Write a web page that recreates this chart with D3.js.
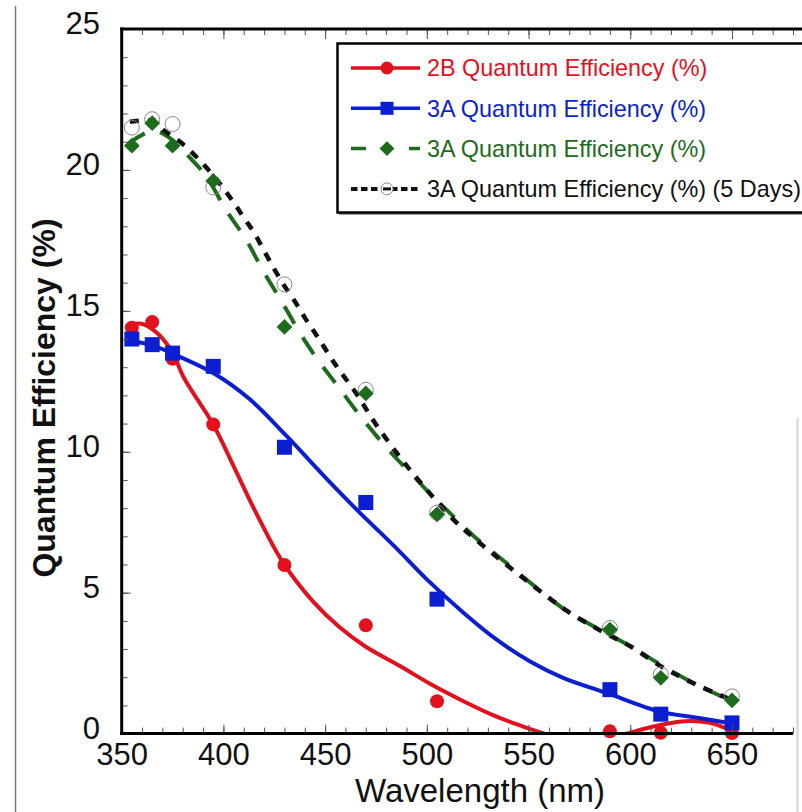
<html>
<head>
<script src="https://d3js.org/d3.v7.min.js"></script>
<style>
    body { margin: 0; background: #fff; }
    text { font-family: "Liberation Sans", Arial, Helvetica, sans-serif; }
</style>
</head>
<body>
<svg id="chart" width="802" height="812"></svg>
<script>
// measured points
const wavelengths = [355, 365, 375, 395, 430, 470, 505, 590, 615, 650];
const qe2B      = [14.4, 14.6, 13.3, 10.97, 5.98, 3.84, 1.15, 0.08, 0.03, 0.02];
const qe3A      = [14.0, 13.8, 13.5, 13.03, 10.16, 8.2, 4.77, 1.56, 0.69, 0.38];
const qe3AGreen = [20.86, 21.66, 20.86, 19.61, 14.43, 12.07, 7.78, 3.69, 1.98, 1.18];
const qe3A5Days = [21.5, 21.8, 21.63, 19.38, 15.94, 12.2, 7.84, 3.75, 2.1, 1.32];

// fitted curves
const fit2BWl = [352, 359, 366, 374, 381, 395, 405, 416, 429, 444, 457, 470, 487, 502, 518, 534, 547, 557, 570, 585, 598, 616, 627, 639, 650];
const fit2B   = [14.45, 14.55, 14.3, 13.64, 12.57, 10.97, 9.49, 7.84, 6.1, 4.69, 3.78, 3.08, 2.39, 1.75, 1.15, 0.61, 0.26, 0.02, -0.25, -0.25, 0.0, 0.32, 0.44, 0.38, 0.1];
const fit3AWl = [352, 364, 376, 396, 413, 431, 451, 467, 484, 500, 518, 534, 551, 567, 588, 614, 633, 650];
const fit3A   = [13.95, 13.8, 13.45, 12.75, 11.86, 10.56, 9.02, 7.84, 6.65, 5.47, 4.29, 3.35, 2.55, 1.98, 1.45, 0.79, 0.56, 0.36];
const fitGreenWl = [353, 365, 372, 385, 392, 401, 411, 420, 429, 438, 447, 456, 468, 482, 495, 501, 512, 523, 539, 554, 570, 588, 600, 616, 633, 648];
const fitGreen   = [20.92, 21.39, 21.21, 20.32, 19.73, 18.61, 17.54, 16.36, 15.29, 14.17, 13.2, 12.35, 11.2, 10.0, 9.02, 8.55, 7.78, 7.01, 6.06, 5.17, 4.29, 3.58, 3.1, 2.4, 1.72, 1.22];
const fit5DWl = [354, 365, 371, 379, 387, 393, 399, 405, 410, 415, 420, 425, 430, 435, 440, 446, 455, 465, 475, 487, 499, 513, 523, 539, 554, 570, 588, 600, 616, 633, 648];
const fit5D   = [21.71, 21.73, 21.39, 20.98, 20.44, 19.97, 19.44, 18.85, 18.31, 17.78, 17.13, 16.48, 15.88, 15.35, 14.76, 14.11, 13.1, 12.1, 10.97, 9.79, 8.73, 7.6, 6.95, 6.0, 5.15, 4.3, 3.55, 3.1, 2.35, 1.72, 1.25];

const legendLabels = ["2B Quantum Efficiency (%)", "3A Quantum Efficiency (%)", "3A Quantum Efficiency (%)", "3A Quantum Efficiency (%) (5 Days)"];
const xMajor = [350, 400, 450, 500, 550, 600, 650];
const yMajor = [0, 5, 10, 15, 20, 25];

const red = "#e3101e", blue = "#0b1fd1", green = "#1d6b1d", black = "#111";

const svg = d3.select("#chart");
const x = d3.scaleLinear().domain([350, 680]).range([121.7, 793]);
const y = d3.scaleLinear().domain([0, 25]).range([733.6, 29]);

// stray frame lines from the original screenshot
svg.append("line").attr("x1", 15.5).attr("x2", 15.5).attr("y1", 6).attr("y2", 812)
    .style("stroke", "#777").style("stroke-width", 1.5);
svg.append("line").attr("x1", 797.5).attr("x2", 797.5).attr("y1", 418).attr("y2", 812)
    .style("stroke", "#d4d4d4").style("stroke-width", 2);

svg.append("clipPath").attr("id", "plotclip").append("rect")
    .attr("x", x(350)).attr("y", y(25)).attr("width", x(680) - x(350)).attr("height", y(0) - y(25));

const curve = d3.line().x(d => x(d[0])).y(d => y(d[1])).curve(d3.curveCatmullRom.alpha(0.5));
const zip = (a, b) => a.map((v, i) => [v, b[i]]);

const lines = svg.append("g").attr("clip-path", "url(#plotclip)");
lines.append("path").datum(zip(fit2BWl, fit2B)).attr("d", curve)
    .style("fill", "none").style("stroke", red).style("stroke-width", 4);
lines.append("path").datum(zip(fit3AWl, fit3A)).attr("d", curve)
    .style("fill", "none").style("stroke", blue).style("stroke-width", 4);
lines.append("path").datum(zip(fitGreenWl, fitGreen)).attr("d", curve)
    .style("fill", "none").style("stroke", green).style("stroke-width", 4)
    .style("stroke-dasharray", "20,16");
lines.append("path").datum(zip(fit5DWl, fit5D)).attr("d", curve)
    .style("fill", "none").style("stroke", black).style("stroke-width", 4.5)
    .style("stroke-dasharray", "9,9");

// markers
svg.append("g").selectAll("circle").data(zip(wavelengths, qe2B)).join("circle")
    .attr("cx", d => x(d[0])).attr("cy", d => y(d[1])).attr("r", 7).style("fill", red);
svg.append("g").selectAll("rect").data(zip(wavelengths, qe3A)).join("rect")
    .attr("x", d => x(d[0]) - 7.5).attr("y", d => y(d[1]) - 7.5)
    .attr("width", 15).attr("height", 15).style("fill", blue);
svg.append("g").selectAll("circle").data(zip(wavelengths, qe3A5Days)).join("circle")
    .attr("cx", d => x(d[0])).attr("cy", d => y(d[1])).attr("r", 7.5)
    .style("fill", "none").style("stroke", "#888").style("stroke-width", 1);
const diamond = d3.symbol().type(d3.symbolSquare).size(125);
svg.append("g").selectAll("path").data(zip(wavelengths, qe3AGreen)).join("path")
    .attr("d", diamond)
    .attr("transform", d => "translate(" + x(d[0]) + "," + y(d[1]) + ") rotate(45)")
    .style("fill", green);

// axes
const tickColor = "#555";
const bottomMinor = svg.append("g").attr("transform", "translate(0," + y(0) + ")")
    .call(d3.axisBottom(x).tickValues(d3.range(350, 681, 10)).tickSize(-6).tickFormat(""));
const bottomMajor = svg.append("g").attr("transform", "translate(0," + y(0) + ")")
    .call(d3.axisBottom(x).tickValues(xMajor).tickSize(-9).tickFormat(d3.format("d")));
const topMinor = svg.append("g").attr("transform", "translate(0," + y(25) + ")")
    .call(d3.axisTop(x).tickValues(d3.range(350, 681, 10)).tickSize(-6).tickFormat(""));
const topMajor = svg.append("g").attr("transform", "translate(0," + y(25) + ")")
    .call(d3.axisTop(x).tickValues(xMajor).tickSize(-10).tickFormat(""));
const leftMinor = svg.append("g").attr("transform", "translate(" + x(350) + ",0)")
    .call(d3.axisLeft(y).tickValues(d3.range(0, 26, 1)).tickSize(-6).tickFormat(""));
const leftMajor = svg.append("g").attr("transform", "translate(" + x(350) + ",0)")
    .call(d3.axisLeft(y).tickValues(yMajor).tickSize(-9).tickFormat(d3.format("d")));

svg.selectAll(".domain").remove();
svg.selectAll(".tick line").style("stroke", tickColor).style("stroke-width", 1);

bottomMajor.selectAll("text")
    .attr("y", 31.5).attr("dy", null)
    .style("font-size", "31px").style("fill", black);
leftMajor.selectAll("text")
    .attr("x", -21.7).attr("y", -5)
    .style("font-size", "31px").style("fill", black);

// thick frame lines
svg.append("line").attr("x1", x(350)).attr("x2", x(350)).attr("y1", y(25) - 1.5).attr("y2", y(0) + 1.5)
    .style("stroke", "#000").style("stroke-width", 3);
svg.append("line").attr("x1", x(350) - 1.5).attr("x2", x(680)).attr("y1", y(0)).attr("y2", y(0))
    .style("stroke", "#000").style("stroke-width", 3);
svg.append("line").attr("x1", x(350) - 1.5).attr("x2", 810).attr("y1", y(25)).attr("y2", y(25))
    .style("stroke", "#000").style("stroke-width", 3);

// titles
svg.append("text").attr("x", 480).attr("y", 802).attr("text-anchor", "middle")
    .style("font-size", "33px").style("fill", black).text("Wavelength (nm)");
svg.append("text").attr("transform", "translate(55,398) rotate(-90)").attr("text-anchor", "middle")
    .style("font-size", "32px").style("font-weight", "bold").style("fill", black)
    .text("Quantum Efficiency (%)");

// legend
const legend = svg.append("g");
legend.append("rect").attr("x", 339).attr("y", 45).attr("width", 500).attr("height", 170)
    .style("fill", "#999");
legend.append("rect").attr("x", 337.5).attr("y", 43.5).attr("width", 500).attr("height", 169)
    .style("fill", "#fff").style("stroke", "#000").style("stroke-width", 2.5);

const legendColors = [red, blue, green, black];
const legendDash = [null, null, "15,14", "6.5,3.5"];
legendLabels.forEach((label, i) => {
    const cy = 68 + i * 40.3;
    legend.append("line").attr("x1", 351).attr("x2", 420).attr("y1", cy).attr("y2", cy)
        .style("stroke", legendColors[i]).style("stroke-width", i == 3 ? 4 : 3.5)
        .style("stroke-dasharray", legendDash[i]);
    if (i == 0) {
        legend.append("circle").attr("cx", 387).attr("cy", cy).attr("r", 6.5).style("fill", red);
    } else if (i == 1) {
        legend.append("rect").attr("x", 380.5).attr("y", cy - 6.5).attr("width", 13).attr("height", 13).style("fill", blue);
    } else if (i == 2) {
        legend.append("rect").attr("x", 379).attr("y", cy - 14).attr("width", 16).attr("height", 28).style("fill", "#fff");
        legend.append("path").attr("d", d3.symbol().type(d3.symbolSquare).size(110))
            .attr("transform", "translate(387," + cy + ") rotate(45)").style("fill", green);
    } else {
        legend.append("circle").attr("cx", 387).attr("cy", cy).attr("r", 6)
            .style("fill", "#fff").style("stroke", "#888").style("stroke-width", 1);
        legend.append("line").attr("x1", 383).attr("x2", 391).attr("y1", cy).attr("y2", cy)
            .style("stroke", black).style("stroke-width", 3);
    }
    legend.append("text").attr("x", 427).attr("y", cy + 8.3)
        .style("font-size", "23.4px").style("fill", legendColors[i]).text(label);
});
</script>
</body>
</html>
